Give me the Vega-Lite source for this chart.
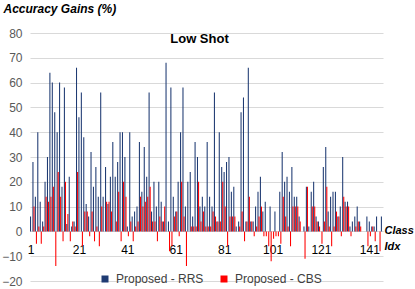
{
  "$schema": "https://vega.github.io/schema/vega-lite/v6.json",
  "width": 353,
  "height": 248,
  "autosize": {"type": "none"},
  "padding": {"left": 30, "top": 33, "right": 32, "bottom": 8},
  "background": "white",
  "title": {"text": "Low Shot", "fontSize": 13, "fontWeight": "bold", "font": "Liberation Sans", "color": "#000000", "anchor": "middle", "offset": -44, "dx": -7},
  "config": {
    "view": {"stroke": null},
    "axis": {"labelFont": "Liberation Sans", "titleFont": "Liberation Sans", "labelColor": "#595959", "labelFontSize": 12},
    "legend": {"labelFont": "Liberation Sans"}
  },
  "data": {"values": [
    {"idx":1,"RRS":6,"CBS":0},{"idx":2,"RRS":28,"CBS":10},{"idx":3,"RRS":14,"CBS":-5},{"idx":4,"RRS":40,"CBS":2},{"idx":5,"RRS":12,"CBS":-5},
    {"idx":6,"RRS":4,"CBS":2},{"idx":7,"RRS":20,"CBS":14},{"idx":8,"RRS":30,"CBS":12},{"idx":9,"RRS":64,"CBS":14},{"idx":10,"RRS":60,"CBS":18},
    {"idx":11,"RRS":48,"CBS":-14},{"idx":12,"RRS":40,"CBS":24},{"idx":13,"RRS":60,"CBS":14},{"idx":14,"RRS":18,"CBS":-4},{"idx":15,"RRS":58,"CBS":20},
    {"idx":16,"RRS":3,"CBS":7},{"idx":17,"RRS":22,"CBS":-4},{"idx":18,"RRS":2,"CBS":4},{"idx":19,"RRS":4,"CBS":2},{"idx":20,"RRS":66,"CBS":24},
    {"idx":21,"RRS":46,"CBS":0},{"idx":22,"RRS":56,"CBS":-6},{"idx":23,"RRS":38,"CBS":8},{"idx":24,"RRS":11,"CBS":8},{"idx":25,"RRS":6,"CBS":-2},
    {"idx":26,"RRS":32,"CBS":8},{"idx":27,"RRS":18,"CBS":-4},{"idx":28,"RRS":26,"CBS":2},{"idx":29,"RRS":14,"CBS":-6},{"idx":30,"RRS":56,"CBS":10},
    {"idx":31,"RRS":14,"CBS":0},{"idx":32,"RRS":26,"CBS":12},{"idx":33,"RRS":11,"CBS":12},{"idx":34,"RRS":22,"CBS":8},{"idx":35,"RRS":36,"CBS":0},
    {"idx":36,"RRS":22,"CBS":4},{"idx":37,"RRS":28,"CBS":16},{"idx":38,"RRS":40,"CBS":-4},{"idx":39,"RRS":40,"CBS":20},{"idx":40,"RRS":30,"CBS":14},
    {"idx":41,"RRS":2,"CBS":-2},{"idx":42,"RRS":40,"CBS":4},{"idx":43,"RRS":6,"CBS":-4},{"idx":44,"RRS":8,"CBS":2},{"idx":45,"RRS":10,"CBS":4},
    {"idx":46,"RRS":36,"CBS":14},{"idx":47,"RRS":16,"CBS":10},{"idx":48,"RRS":34,"CBS":12},{"idx":49,"RRS":22,"CBS":14},{"idx":50,"RRS":56,"CBS":18},
    {"idx":51,"RRS":8,"CBS":4},{"idx":52,"RRS":20,"CBS":4},{"idx":53,"RRS":10,"CBS":-4},{"idx":54,"RRS":20,"CBS":6},{"idx":55,"RRS":12,"CBS":4},
    {"idx":56,"RRS":4,"CBS":10},{"idx":57,"RRS":68,"CBS":0},{"idx":58,"RRS":4,"CBS":-8},{"idx":59,"RRS":58,"CBS":-6},{"idx":60,"RRS":14,"CBS":6},
    {"idx":61,"RRS":8,"CBS":8},{"idx":62,"RRS":20,"CBS":-2},{"idx":63,"RRS":40,"CBS":20},{"idx":64,"RRS":58,"CBS":6},{"idx":65,"RRS":10,"CBS":-14},
    {"idx":66,"RRS":20,"CBS":0},{"idx":67,"RRS":24,"CBS":2},{"idx":68,"RRS":6,"CBS":2},{"idx":69,"RRS":36,"CBS":2},{"idx":70,"RRS":30,"CBS":20},
    {"idx":71,"RRS":10,"CBS":4},{"idx":72,"RRS":14,"CBS":8},{"idx":73,"RRS":10,"CBS":2},{"idx":74,"RRS":36,"CBS":2},{"idx":75,"RRS":14,"CBS":2},
    {"idx":76,"RRS":10,"CBS":8},{"idx":77,"RRS":56,"CBS":6},{"idx":78,"RRS":4,"CBS":4},{"idx":79,"RRS":40,"CBS":4},{"idx":80,"RRS":26,"CBS":20},
    {"idx":81,"RRS":24,"CBS":10},{"idx":82,"RRS":28,"CBS":-6},{"idx":83,"RRS":30,"CBS":6},{"idx":84,"RRS":16,"CBS":6},{"idx":85,"RRS":18,"CBS":6},
    {"idx":86,"RRS":2,"CBS":0},{"idx":87,"RRS":4,"CBS":2},{"idx":88,"RRS":48,"CBS":8},{"idx":89,"RRS":54,"CBS":-4},{"idx":90,"RRS":4,"CBS":4},
    {"idx":91,"RRS":66,"CBS":14},{"idx":92,"RRS":4,"CBS":4},{"idx":93,"RRS":4,"CBS":-2},{"idx":94,"RRS":10,"CBS":2},{"idx":95,"RRS":16,"CBS":6},
    {"idx":96,"RRS":22,"CBS":10},{"idx":97,"RRS":8,"CBS":-2},{"idx":98,"RRS":12,"CBS":-2},{"idx":99,"RRS":0,"CBS":-6},{"idx":100,"RRS":10,"CBS":-12},
    {"idx":101,"RRS":0,"CBS":-3},{"idx":102,"RRS":8,"CBS":-2},{"idx":103,"RRS":0,"CBS":-2},{"idx":104,"RRS":16,"CBS":-5},{"idx":105,"RRS":32,"CBS":14},
    {"idx":106,"RRS":20,"CBS":6},{"idx":107,"RRS":22,"CBS":2},{"idx":108,"RRS":16,"CBS":-6},{"idx":109,"RRS":26,"CBS":10},{"idx":110,"RRS":14,"CBS":10},
    {"idx":111,"RRS":14,"CBS":10},{"idx":112,"RRS":6,"CBS":4},{"idx":113,"RRS":0,"CBS":0},{"idx":114,"RRS":2,"CBS":-11},{"idx":115,"RRS":18,"CBS":18},
    {"idx":116,"RRS":2,"CBS":0},{"idx":117,"RRS":16,"CBS":10},{"idx":118,"RRS":20,"CBS":10},{"idx":119,"RRS":6,"CBS":4},{"idx":120,"RRS":4,"CBS":2},
    {"idx":121,"RRS":0,"CBS":-5},{"idx":122,"RRS":26,"CBS":4},{"idx":123,"RRS":34,"CBS":18},{"idx":124,"RRS":8,"CBS":2},{"idx":125,"RRS":14,"CBS":-6},
    {"idx":126,"RRS":16,"CBS":2},{"idx":127,"RRS":16,"CBS":8},{"idx":128,"RRS":6,"CBS":6},{"idx":129,"RRS":10,"CBS":-2},{"idx":130,"RRS":30,"CBS":14},
    {"idx":131,"RRS":12,"CBS":10},{"idx":132,"RRS":12,"CBS":10},{"idx":133,"RRS":2,"CBS":-2},{"idx":134,"RRS":4,"CBS":0},{"idx":135,"RRS":6,"CBS":2},
    {"idx":136,"RRS":10,"CBS":4},{"idx":137,"RRS":4,"CBS":2},{"idx":138,"RRS":0,"CBS":0},{"idx":139,"RRS":0,"CBS":0},{"idx":140,"RRS":6,"CBS":-6},
    {"idx":141,"RRS":4,"CBS":-2},{"idx":142,"RRS":2,"CBS":2},{"idx":143,"RRS":2,"CBS":-4},{"idx":144,"RRS":6,"CBS":0},{"idx":145,"RRS":0,"CBS":-8},
    {"idx":146,"RRS":6,"CBS":0}
  ]},
  "transform": [{"fold": ["RRS", "CBS"], "as": ["series", "value"]}],
  "mark": {"type": "bar"},
  "encoding": {
    "x": {
      "field": "idx", "type": "ordinal",
      "scale": {"paddingInner": 0.12, "paddingOuter": 0},
      "axis": {
        "values": [1, 21, 41, 61, 81, 101, 121, 141],
        "labelAngle": 0, "ticks": false, "domain": true, "domainColor": "#D9D9D9",
        "offset": -50, "labelPadding": 13, "labelColor": "#000000",
        "title": ["Class", "Idx"], "titleAngle": 0, "titleX": 354, "titleY": -1,
        "titleAlign": "left", "titleBaseline": "middle", "titleLineHeight": 16,
        "titleFontSize": 11, "titleFontWeight": "bold", "titleFontStyle": "italic", "titleColor": "#000000"
      }
    },
    "xOffset": {"field": "series", "sort": ["RRS", "CBS"]},
    "y": {
      "field": "value", "type": "quantitative",
      "scale": {"domain": [-20, 80], "nice": false},
      "axis": {
        "values": [-20, -10, 0, 10, 20, 30, 40, 50, 60, 70, 80],
        "domain": false, "ticks": false, "labelPadding": 8, "gridColor": "#D9D9D9",
        "title": "Accuracy Gains (%)", "titleAngle": 0, "titleX": -27, "titleY": -25,
        "titleAlign": "left", "titleBaseline": "middle",
        "titleFontSize": 12, "titleFontWeight": "bold", "titleFontStyle": "italic", "titleColor": "#000000"
      }
    },
    "color": {
      "field": "series", "type": "nominal",
      "scale": {"domain": ["RRS", "CBS"], "range": ["#1F3B73", "#FF0000"]},
      "legend": {
        "orient": "none", "legendX": 69, "legendY": 240, "direction": "horizontal",
        "title": null, "symbolType": "square", "symbolSize": 49, "symbolStrokeWidth": 0,
        "labelFontSize": 12, "labelColor": "#404040", "columnPadding": 14, "labelOffset": 5,
        "labelExpr": "'Proposed - ' + datum.label"
      }
    }
  }
}
